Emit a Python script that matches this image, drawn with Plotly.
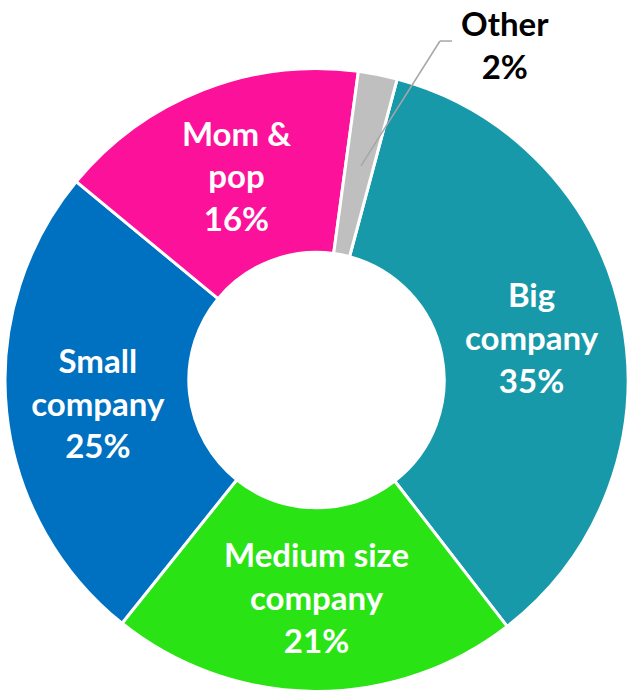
import plotly.graph_objects as go

# Share of respondents by employer type
categories = ["Big company", "Medium size company", "Small company", "Mom & pop", "Other"]
slice_text = ["Big<br>company", "Medium size<br>company", "Small<br>company", "Mom &amp;<br>pop", ""]
shares = [35, 21, 25, 16, 2]
colors = ["#1799A9", "#2AE314", "#0070C0", "#FC119A", "#BFBFBF"]

FONT = "Lato"

texts = [f"{t}<br>{v}%" if t else "" for t, v in zip(slice_text, shares)]

fig = go.Figure(
    go.Pie(
        labels=categories,
        values=shares,
        text=texts,
        textinfo="text",
        textposition="inside",
        insidetextorientation="horizontal",
        hole=0.41,
        sort=False,
        direction="clockwise",
        rotation=15,
        marker=dict(colors=colors, line=dict(color="white", width=3)),
        textfont=dict(family=FONT, size=33, color="white", weight="bold"),
        domain=dict(x=[0.008, 1.0], y=[0.0014, 0.902]),
        showlegend=False,
    )
)

# Callout for the small "Other" slice
fig.add_annotation(
    x=0.804, y=0.9365, xref="paper", yref="paper",
    xanchor="center", yanchor="middle",
    text=f"<b>Other<br>{shares[4]}%</b>",
    showarrow=False,
    font=dict(family=FONT, size=33, color="black"),
    align="center",
)
fig.add_shape(type="line", xref="paper", yref="paper",
              x0=0.7197, y0=0.9408, x1=0.7006, y1=0.9408,
              line=dict(color="#A6A6A6", width=1.5))
fig.add_shape(type="line", xref="paper", yref="paper",
              x0=0.7006, y0=0.9408, x1=0.5748, y1=0.7605,
              line=dict(color="#A6A6A6", width=1.5))

fig.update_layout(
    width=628, height=693,
    margin=dict(l=0, r=0, t=0, b=0),
    paper_bgcolor="white",
    plot_bgcolor="white",
)

fig.write_html("out.html")
